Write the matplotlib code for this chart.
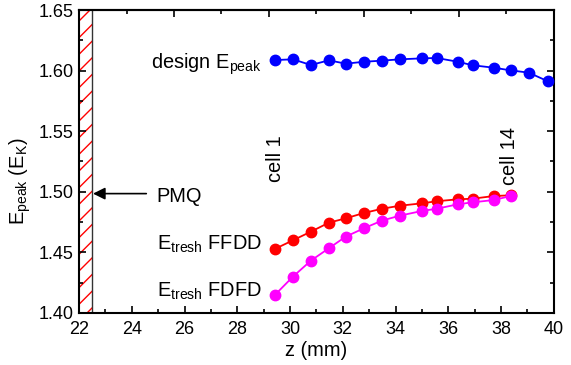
import numpy as np
import matplotlib
matplotlib.use("Agg")
import matplotlib.pyplot as plt
from matplotlib.ticker import MultipleLocator, FixedLocator, NullFormatter

plt.rcParams['font.family'] = ['Liberation Sans', 'DejaVu Sans']
plt.rcParams['mathtext.default'] = 'regular'
plt.rcParams['hatch.linewidth'] = 1.0

# cell positions along the beamline (mm)
z_cells = [29.42, 30.11, 30.79, 31.47, 32.11, 32.80, 33.48, 34.16,
           35.00, 35.56, 36.36, 36.92, 37.72, 38.36, 39.05, 39.77]

# peak surface field, in units of the Kilpatrick field
e_design = [1.6087, 1.6093, 1.6046, 1.6085, 1.6057, 1.6073, 1.6082, 1.6093,
            1.6101, 1.6104, 1.6073, 1.6044, 1.6024, 1.6002, 1.5983, 1.5912]
e_ffdd = [1.4528, 1.4600, 1.4671, 1.4745, 1.4781, 1.4825, 1.4860,
          1.4885, 1.4905, 1.4922, 1.4938, 1.4943, 1.4965, 1.4971]
e_fdfd = [1.4148, 1.4300, 1.4432, 1.4534, 1.4630, 1.4699, 1.4762,
          1.4803, 1.4842, 1.4860, 1.4897, 1.4913, 1.4932, 1.4965]

pmq_span = (22.0, 22.5)

fig = plt.figure(figsize=(5.71, 3.65), dpi=100)
ax = fig.add_axes([0.1384, 0.1425, 0.8316, 0.8301])

fs_tick = 13
fs_text = 14.4
fs_label = 14.4

# permanent-magnet quadrupole region
ax.axvspan(*pmq_span, facecolor='none', edgecolor='red', hatch='//', linewidth=0, zorder=1)
ax.axvline(pmq_span[1], color='#333333', linewidth=1.0, zorder=2)

ms = 7.5
lw = 1.3
ax.plot(z_cells, e_design, '-o', color='#0000ff', markersize=ms, linewidth=lw, zorder=3)
n = len(e_ffdd)
ax.plot(z_cells[:n], e_ffdd, '-o', color='#ff0000', markersize=ms, linewidth=lw, zorder=3)
ax.plot(z_cells[:n], e_fdfd, '-o', color='#ff00ff', markersize=ms, linewidth=lw, zorder=4)

ax.set_xlim(22, 40)
ax.set_ylim(1.40, 1.65)
ax.xaxis.set_major_locator(MultipleLocator(2))
ax.xaxis.set_minor_locator(MultipleLocator(1))
ax.yaxis.set_major_locator(MultipleLocator(0.05))
ax.yaxis.set_minor_locator(MultipleLocator(0.025))
ax.yaxis.set_major_formatter(plt.FormatStrFormatter('%.2f'))

ax.tick_params(which='both', direction='in', top=False, right=True, width=1.2,
               labelsize=fs_tick)
ax.tick_params(which='major', length=5)
ax.tick_params(which='minor', length=3)
ax.tick_params(axis='x', pad=6)
ax.tick_params(axis='y', pad=4)

# top axis carries its own tick spacing
top = ax.secondary_xaxis('top')
top.xaxis.set_major_locator(FixedLocator(np.arange(22, 40.01, 3.6)))
top.xaxis.set_minor_locator(FixedLocator(np.arange(22, 40.01, 1.8)))
top.xaxis.set_major_formatter(NullFormatter())
top.tick_params(which='both', direction='in', width=1.2)
top.tick_params(which='major', length=5)
top.tick_params(which='minor', length=3)
top.spines['top'].set_linewidth(1.5)

for s in ax.spines.values():
    s.set_linewidth(1.5)

ax.set_xlabel('z (mm)', fontsize=fs_label, labelpad=2)
ax.set_ylabel('E$_{peak}$ (E$_{K}$)', fontsize=fs_label)
ax.yaxis.set_label_coords(-0.097, 0.436)

ax.text(28.93, 1.6019, 'design E$_{peak}$', ha='right', va='baseline', fontsize=fs_text)
ax.text(28.93, 1.452, 'E$_{tresh}$ FFDD', ha='right', va='baseline', fontsize=fs_text)
ax.text(28.93, 1.4134, 'E$_{tresh}$ FDFD', ha='right', va='baseline', fontsize=fs_text)
ax.text(24.95, 1.4918, 'PMQ', ha='left', va='baseline', fontsize=fs_text)
ax.annotate('', xy=(22.53, 1.4985), xytext=(24.55, 1.4985),
            arrowprops=dict(arrowstyle='-|>', color='black', lw=1.2,
                            mutation_scale=18, shrinkA=0, shrinkB=0))
ax.text(29.46, 1.508, 'cell 1', rotation=90, ha='center', va='bottom', fontsize=fs_text)
ax.text(38.33, 1.5056, 'cell 14', rotation=90, ha='center', va='bottom', fontsize=fs_text)

fig.savefig('out.png', dpi=100)
